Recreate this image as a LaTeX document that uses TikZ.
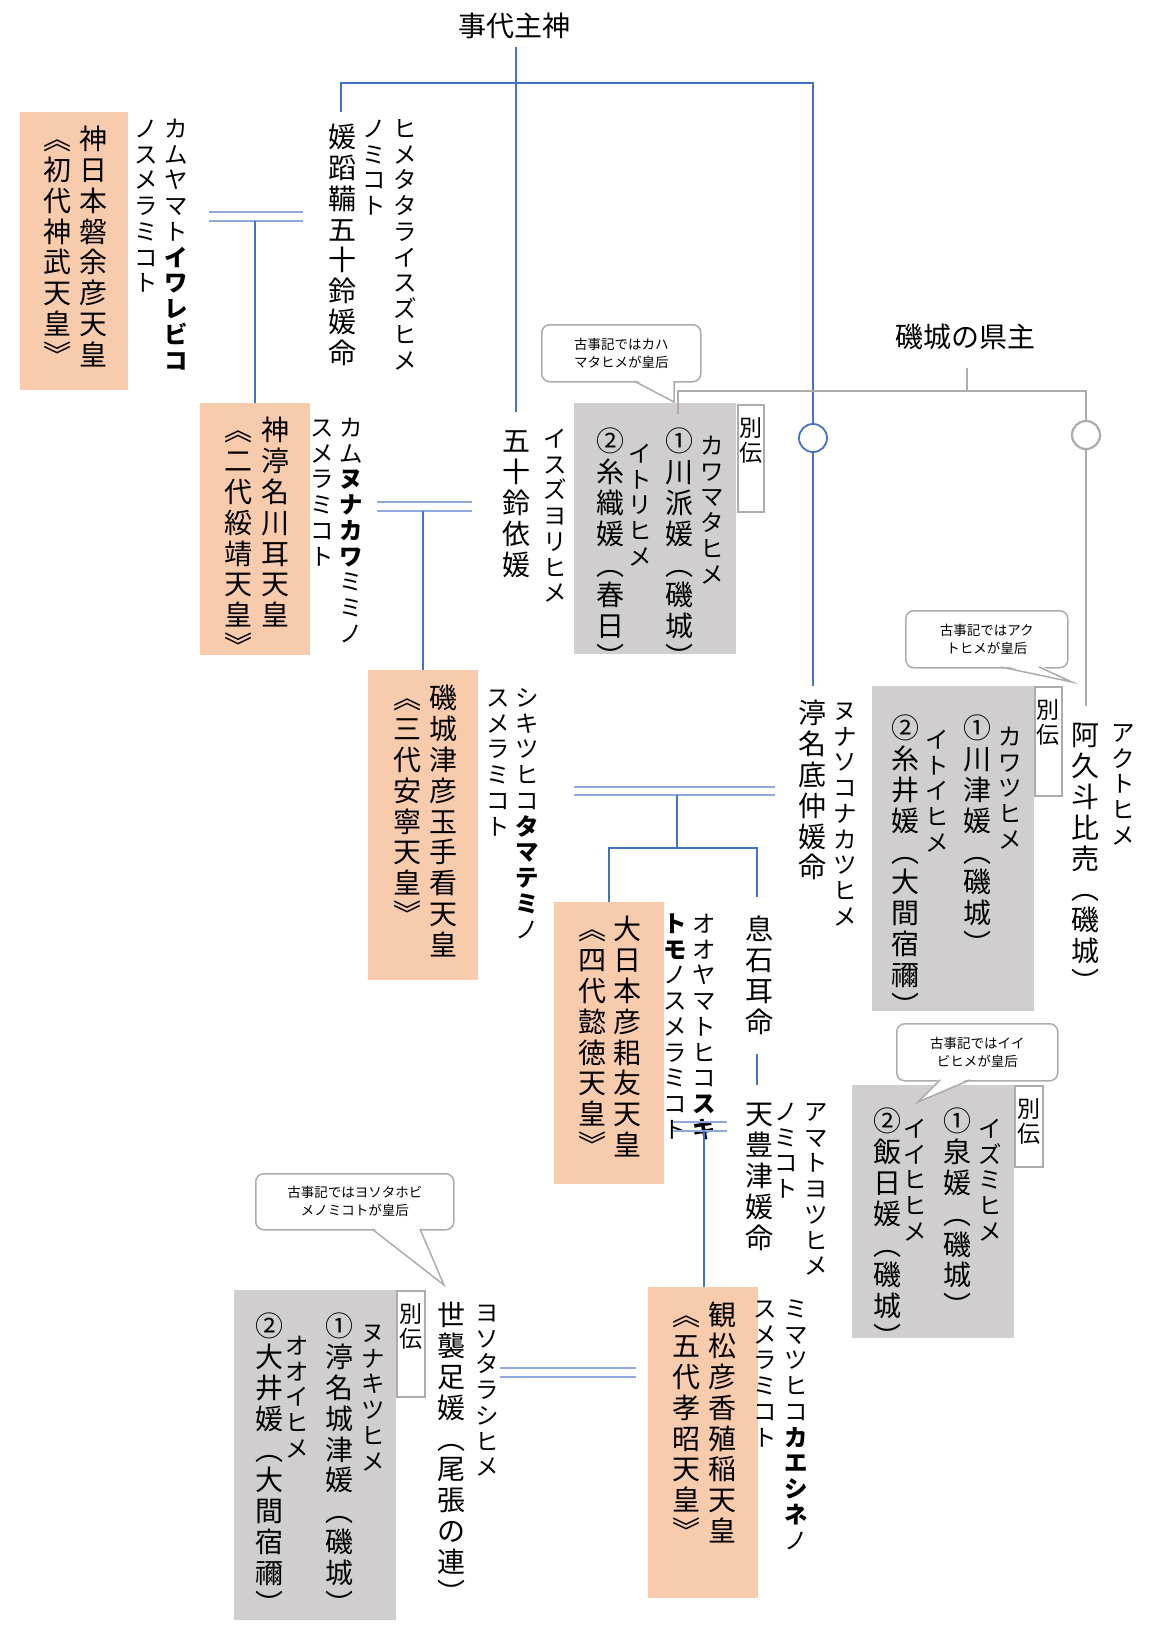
\documentclass[tikz,border=0pt]{standalone}
\usepackage{fontspec}
\setmainfont{Noto Sans CJK JP}
\definecolor{orng}{HTML}{F8CBAD}
\definecolor{gbox}{HTML}{D0CECE}
\definecolor{bl}{HTML}{4472C4}
\definecolor{lbl}{HTML}{8FAADC}
\definecolor{gl}{HTML}{AFABAB}
\makeatletter
\def\B{}\def\R{}
\def\@Bmk{\B}\def\@Rmk{\R}
\newcommand\V[1]{\vtop{\offinterlineskip\@tfor\@vc:=#1\do{\ifx\@vc\@Bmk\bfseries\else\ifx\@vc\@Rmk\mdseries\else\hbox to 1em{\vrule height .95em depth .15em width 0pt\hss\@vc\hss}\fi\fi}}}
\makeatother
\begin{document}
\begin{tikzpicture}[x=1pt,y=-1pt,
  kj/.style={anchor=north,inner sep=0pt,font=\fontsize{28}{31}\selectfont},
  kn/.style={anchor=north,inner sep=0pt,font=\fontsize{23.4}{26}\selectfont},
  obox/.style={fill=orng,draw=none,anchor=north west,inner sep=0pt},
  gybox/.style={fill=gbox,draw=none,anchor=north west,inner sep=0pt},
  tabbox/.style={fill=white,draw=gl,line width=1.5pt,anchor=north west,inner sep=0pt,font=\fontsize{24}{33}\selectfont},
  bline/.style={draw=bl,line width=1.8pt},
  dline/.style={draw=lbl,line width=1.8pt},
  gline/.style={draw=gl,line width=2.2pt},
  callout/.style={fill=white,draw=gl,line width=1.5pt,rounded corners=8pt,anchor=north west,inner sep=0pt,align=center,font=\fontsize{13.5}{18}\selectfont},
  hop/.style={circle,fill=white,line width=1.8pt,minimum size=28pt,inner sep=0pt}]
\useasboundingbox (0,0) rectangle (1148,1640);
\fill[white] (0,0) rectangle (1148,1640);

% boxes
\node[obox,minimum width=108pt,minimum height=278pt] (bA) at (20,112) {};
\node[obox,minimum width=110pt,minimum height=252pt] (bB) at (200,403) {};
\node[gybox,minimum width=162pt,minimum height=251pt] (bC) at (574,403) {};
\node[tabbox,minimum width=26pt,minimum height=107pt] (tC) at (737,404) {};
\node[obox,minimum width=110pt,minimum height=310pt] (bE) at (368,670) {};
\node[gybox,minimum width=162pt,minimum height=325pt] (bD) at (872,686) {};
\node[tabbox,minimum width=27pt,minimum height=109pt] (tD) at (1034,686) {};
\node[obox,minimum width=110pt,minimum height=282pt] (bF) at (554,902) {};
\node[gybox,minimum width=162pt,minimum height=253pt] (bG) at (852,1085) {};
\node[tabbox,minimum width=28pt,minimum height=81pt] (tG) at (1014,1085) {};
\node[obox,minimum width=110pt,minimum height=311pt] (bH) at (648,1287) {};
\node[gybox,minimum width=162pt,minimum height=330pt] (bI) at (234,1290) {};
\node[tabbox,minimum width=28pt,minimum height=106pt] (tI) at (396,1290) {};

\foreach \t in {tC,tD,tG,tI}{\node[anchor=north,inner sep=0pt,font=\fontsize{23}{33}\selectfont] at ([yshift=-10pt]\t.north) {\V{別伝}};}

% top
\node[inner sep=0pt,font=\fontsize{28}{30}\selectfont] (top) at (514,26) {事代主神};
\node[inner sep=0pt,font=\fontsize{28}{30}\selectfont] (agata) at (965,337) {磯城の県主};

% texts
\node[kj] (a1) at (93,123) {\V{神日本磐余彦天皇}};
\node[kj] (a2) at (57,123) {\V{︽初代神武天皇︾}};
\node[kn] (a3) at (176,115) {\V{カムヤマト\B イワレビコ}};
\node[kn] (a4) at (146,115) {\V{ノスメラミコト}};
\node[kn] (h1) at (405,115) {\V{ヒメタタライスズヒメ}};
\node[kn] (h2) at (374,115) {\V{ノミコト}};
\node[kj] (h3) at (342,121) {\V{媛蹈鞴五十鈴媛命}};

\node[kj] (b1) at (275,414) {\V{神渟名川耳天皇}};
\node[kj] (b2) at (238,414) {\V{︽二代綏靖天皇︾}};
\node[kn] (b3) at (351,414) {\V{カム\B ヌナカワ\R ミミノ}};
\node[kn] (b4) at (322,414) {\V{スメラミコト}};
\node[kn] (i1) at (555,425) {\V{イスズヨリヒメ}};
\node[kj] (i2) at (516,425) {\V{五十鈴依媛}};

\node[kn] (c1) at (712,432) {\V{カワマタヒメ}};
\node[kj] (c2) at (679,425) {\V{①川派媛︵磯城︶}};
\node[kn] (c3) at (640,440) {\V{イトリヒメ}};
\node[kj] (c4) at (610,425) {\V{②糸織媛︵春日︶}};

\node[kj] (e1) at (443,682) {\V{磯城津彦玉手看天皇}};
\node[kj] (e2) at (407,682) {\V{︽三代安寧天皇︾}};
\node[kn] (e3) at (527,684) {\V{シキツヒコ\B タマテミ\R ノ}};
\node[kn] (e4) at (498,684) {\V{スメラミコト}};
\node[kj] (n1) at (812,697) {\V{渟名底仲媛命}};
\node[kn] (n2) at (845,697) {\V{ヌナソコナカツヒメ}};

\node[kn] (d1) at (1010,723) {\V{カワツヒメ}};
\node[kj] (d2) at (977,712) {\V{①川津媛︵磯城︶}};
\node[kn] (d3) at (937,726) {\V{イトイヒメ}};
\node[kj] (d4) at (905,712) {\V{②糸井媛︵大間宿禰︶}};
\node[kj] (k1) at (1085,719) {\V{阿久斗比売︵磯城︶}};
\node[kn] (k2) at (1123,719) {\V{アクトヒメ}};

\node[kj] (f1) at (627,913) {\V{大日本彦耜友天皇}};
\node[kj] (f2) at (592,913) {\V{︽四代懿徳天皇︾}};
\node[kn] (f3) at (704,910) {\V{オオヤマトヒコ\B スキ}};
\node[kn] (f4) at (675,910) {\V{\B トモ\R ノスメラミコト}};
\node[kj] (s1) at (759,913) {\V{息石耳命}};
\node[kj] (t1) at (759,1098) {\V{天豊津媛命}};
\node[kn] (t2) at (786,1098) {\V{ノミコト}};
\node[kn] (t3) at (816,1098) {\V{アマトヨツヒメ}};

\node[kn] (g1) at (990,1115) {\V{イズミヒメ}};
\node[kj] (g2) at (957,1105) {\V{①泉媛︵磯城︶}};
\node[kn] (g3) at (915,1115) {\V{イイヒヒメ}};
\node[kj] (g4) at (887,1105) {\V{②飯日媛︵磯城︶}};

\node[kj] (m1) at (722,1299) {\V{観松彦香殖稲天皇}};
\node[kj] (m2) at (686,1299) {\V{︽五代孝昭天皇︾}};
\node[kn] (m3) at (796,1295) {\V{ミマツヒコ\B カエシネ\R ノ}};
\node[kn] (m4) at (765,1295) {\V{スメラミコト}};
\node[kn] (y1) at (487,1299) {\V{ヨソタラシヒメ}};
\node[kj] (y2) at (451,1299) {\V{世襲足媛︵尾張の連︶}};

\node[kn] (j1) at (373,1319) {\V{ヌナキツヒメ}};
\node[kj] (j2) at (339,1310) {\V{①渟名城津媛︵磯城︶}};
\node[kn] (j3) at (297,1332) {\V{オオイヒメ}};
\node[kj] (j4) at (269,1310) {\V{②大井媛︵大間宿禰︶}};

% callouts
\node[callout,minimum width=159pt,minimum height=57pt] (qC) at (541,324) {古事記ではカハ\\マタヒメが皇后};
\fill[white] (634,379)--(674,402)--(674,379)--cycle;
\draw[gl,line width=1.5pt] (634,381)--(674,402)--(674,381);
\node[callout,minimum width=162pt,minimum height=57pt] (qD) at (905,610) {古事記ではアク\\トヒメが皇后};
\fill[white] (1001,665)--(1072,682)--(1039,665)--cycle;
\draw[gl,line width=1.5pt] (1001,667)--(1072,682)--(1039,667);
\node[callout,minimum width=161pt,minimum height=57pt] (qG) at (896,1023) {古事記ではイイ\\ビヒメが皇后};
\fill[white] (940,1078)--(918,1102)--(970,1078)--cycle;
\draw[gl,line width=1.5pt] (940,1080)--(918,1102)--(970,1080);
\node[callout,minimum width=198pt,minimum height=56pt] (qH) at (255,1173) {古事記ではヨソタホビ\\メノミコトが皇后};
\fill[white] (372,1227)--(444,1285)--(420,1227)--cycle;
\draw[gl,line width=1.5pt] (372,1229)--(444,1285)--(420,1229);

% lines
\node[hop,draw=bl] (o1) at (813,438) {};
\node[hop,draw=gl,line width=2.2pt] (o2) at (1086,435) {};
\draw[bline] (top.south -| 516,0) ++(0,8) -- (516,83);
\draw[bline] (341,112)--(341,83)--(813,83)--(o1.north);
\draw[bline] (o1.south)--(813,686);
\draw[bline] (516,83)--(516,412);
\draw[dline] (209,212)--(303,212) (209,221)--(303,221);
\draw[bline] (255,221)--(bB.north -| 255,0);
\draw[dline] (377,502)--(472,502) (377,511)--(472,511);
\draw[bline] (423,511)--(bE.north -| 423,0);
\draw[dline] (574,787)--(775,787) (574,795)--(775,795);
\draw[bline] (677,795)--(677,848);
\draw[bline] (bF.north -| 609,0)--(609,848)--(757,848)--(757,897);
\draw[bline] (757,1054)--(757,1085);
\draw[dline] (673,1122)--(727,1122) (673,1131)--(727,1131);
\draw[bline] (704,1131)--(bH.north -| 704,0);
\draw[dline] (500,1368)--(636,1368) (500,1377)--(636,1377);
\draw[gline] (967,368)--(967,391);
\draw[gline] (678,414)--(678,391)--(1086,391)--(o2.north);
\draw[gline] (o2.south)--(1086,706);
\end{tikzpicture}
\end{document}
